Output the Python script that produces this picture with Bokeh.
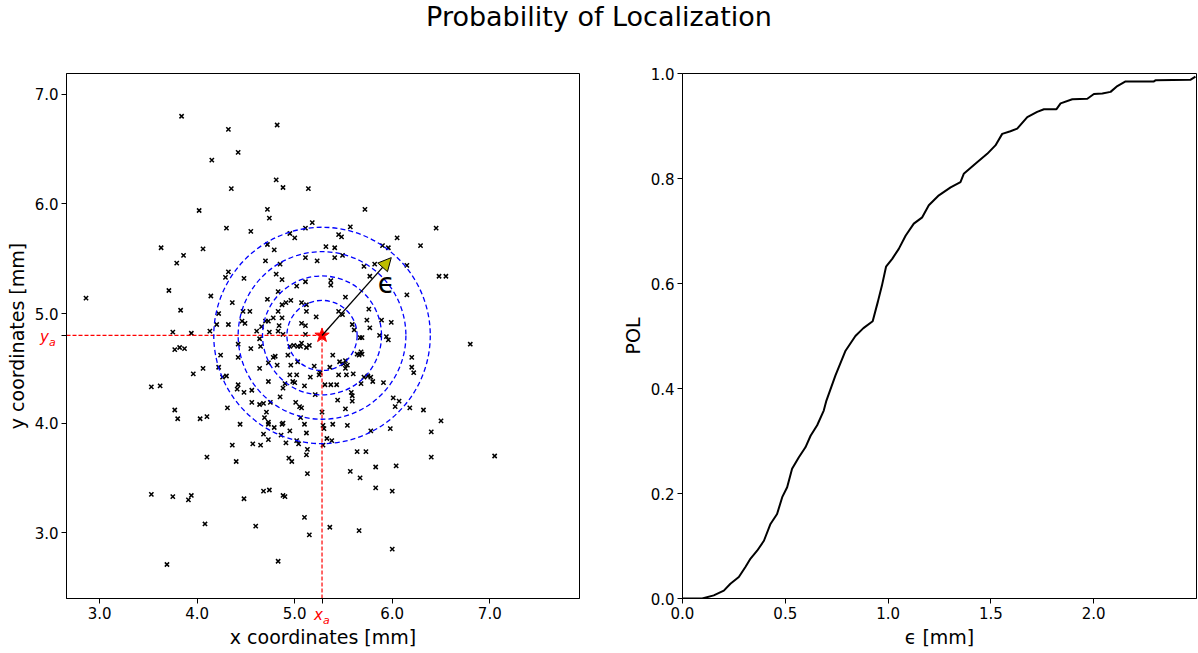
from bokeh.plotting import figure
from bokeh.models import (Range1d, FixedTicker, PrintfTickFormatter, Label, Arrow,
                          NormalHead, Div)
from bokeh.layouts import column, row
from bokeh.embed import file_html
from bokeh.resources import INLINE

# ---------------- data ----------------
x_pts = [
    3.84, 4.32, 4.42, 4.15, 4.35, 4.02, 4.30, 3.63, 4.06, 4.82,
    4.81, 4.88, 5.14, 4.72, 4.74, 5.72, 4.55, 5.18, 5.11, 5.57,
    4.95, 5.00, 5.45, 5.48, 6.05, 4.72, 4.79, 5.32, 5.41, 5.90,
    5.96, 6.45, 6.29, 3.86, 3.79, 4.32, 4.29, 3.71, 2.86, 4.14,
    4.36, 3.83, 4.22, 4.20, 4.32, 3.75, 3.94, 4.13, 4.42, 3.77,
    3.82, 3.87, 4.24, 4.42, 4.22, 4.06, 3.96, 4.26, 4.30, 4.42,
    3.53, 3.62, 4.41, 4.31, 3.77, 3.80, 4.03, 4.10, 4.36, 4.10,
    4.40, 3.53, 3.75, 3.91, 3.94, 4.08, 3.69, 4.44, 4.73, 4.79,
    4.87, 5.10, 5.29, 5.39, 5.54, 5.98, 5.78, 5.30, 4.95, 4.68,
    5.12, 4.86, 4.73, 5.02, 5.04, 4.91, 5.33, 5.38, 5.29, 4.57,
    4.65, 5.13, 5.12, 5.64, 5.73, 4.94, 4.97, 5.83, 6.04, 5.13,
    5.57, 5.67, 5.83, 4.68, 4.74, 6.00, 4.48, 4.88, 4.90, 5.10,
    4.60, 5.36, 5.15, 5.66, 6.00, 4.83, 6.40, 6.40, 7.05, 6.15,
    6.48, 6.55, 6.15, 6.80, 6.20, 6.20, 6.22, 6.18, 6.32, 6.50,
    4.70, 4.85, 5.11, 5.23, 5.41, 5.49, 5.71, 5.82, 4.48, 4.81,
    4.87, 5.11, 5.37, 5.37, 5.02, 5.77, 4.83, 4.72, 5.52, 4.96,
    4.91, 4.87, 5.07, 5.12, 4.47, 4.54, 4.83, 5.12, 5.45, 5.76,
    5.22, 5.49, 4.78, 4.87, 4.70, 4.73, 4.46, 4.49, 4.66, 4.84,
    5.07, 5.11, 5.59, 5.74, 5.89, 5.99, 4.61, 4.74, 4.83, 4.88,
    5.11, 5.61, 5.77, 4.64, 5.87, 5.67, 5.69, 5.94, 5.96, 4.65,
    4.95, 4.99, 5.03, 5.07, 5.06, 5.12, 5.15, 4.55, 4.93, 4.80,
    4.78, 5.39, 5.68, 5.64, 5.66, 5.69, 4.73, 5.52, 5.46, 5.50,
    5.54, 4.82, 5.03, 5.20, 4.96, 4.64, 5.36, 5.52, 5.60, 5.26,
    5.25, 4.95, 5.02, 5.45, 5.53, 5.75, 5.78, 5.80, 5.71, 5.16,
    4.98, 4.73, 4.90, 5.00, 5.10, 5.31, 5.37, 5.43, 5.68, 5.91,
    4.56, 4.48, 4.88, 5.21, 5.58, 5.59, 6.01, 4.85, 4.75, 4.56,
    4.64, 4.68, 5.01, 5.07, 5.44, 5.59, 6.07, 6.03, 5.05, 5.28,
    5.52, 4.71, 4.69, 4.73, 4.88, 5.06,
]
y_pts = [
    6.80, 6.68, 6.47, 6.40, 6.14, 5.94, 5.78, 5.60, 5.59, 6.72,
    6.22, 6.15, 6.14, 5.95, 5.87, 5.95, 5.75, 5.83, 5.78, 5.79,
    5.73, 5.69, 5.72, 5.70, 5.69, 5.63, 5.58, 5.61, 5.60, 5.62,
    5.60, 5.78, 5.62, 5.53, 5.46, 5.38, 5.33, 5.21, 5.14, 5.16,
    5.10, 5.03, 5.00, 4.90, 4.90, 4.83, 4.82, 4.84, 4.72, 4.67,
    4.69, 4.68, 4.62, 4.60, 4.51, 4.50, 4.45, 4.42, 4.43, 4.35,
    4.33, 4.34, 4.31, 4.14, 4.12, 4.04, 4.04, 4.06, 3.80, 3.69,
    3.65, 3.35, 3.33, 3.30, 3.34, 3.08, 2.71, 3.99, 3.99, 3.96,
    3.99, 3.99, 3.98, 3.99, 3.98, 3.95, 3.93, 3.95, 3.93, 3.90,
    3.91, 3.89, 3.85, 3.84, 3.81, 3.82, 3.86, 3.84, 3.80, 3.81,
    3.80, 3.76, 3.71, 3.74, 3.74, 3.68, 3.65, 3.60, 3.61, 3.54,
    3.56, 3.50, 3.41, 3.38, 3.39, 3.38, 3.31, 3.34, 3.33, 3.14,
    3.06, 3.05, 2.98, 3.02, 2.85, 2.74, 3.92, 3.69, 3.70, 5.44,
    5.34, 5.34, 5.17, 4.72, 4.60, 4.51, 4.46, 4.14, 4.12, 4.02,
    5.48, 5.45, 5.51, 5.48, 5.51, 5.53, 5.43, 5.45, 5.32, 5.36,
    5.31, 5.29, 5.30, 5.26, 5.25, 5.34, 5.20, 5.13, 5.15, 5.12,
    5.10, 5.08, 5.10, 5.08, 5.02, 5.02, 5.02, 5.02, 5.02, 5.04,
    4.97, 4.99, 4.96, 4.96, 4.93, 4.93, 4.93, 4.91, 4.88, 4.89,
    4.91, 4.89, 4.90, 4.94, 4.94, 4.92, 4.84, 4.83, 4.84, 4.81,
    4.81, 4.85, 4.87, 4.77, 4.80, 4.78, 4.78, 4.79, 4.76, 4.70,
    4.70, 4.71, 4.70, 4.73, 4.70, 4.69, 4.71, 4.68, 4.62, 4.61,
    4.60, 4.62, 4.65, 4.63, 4.62, 4.63, 4.55, 4.57, 4.56, 4.54,
    4.53, 4.53, 4.56, 4.52, 4.53, 4.50, 4.51, 4.50, 4.45, 4.46,
    4.44, 4.44, 4.44, 4.44, 4.44, 4.43, 4.42, 4.38, 4.42, 4.42,
    4.38, 4.38, 4.36, 4.37, 4.34, 4.35, 4.35, 4.35, 4.36, 4.37,
    4.30, 4.28, 4.32, 4.26, 4.28, 4.25, 4.23, 4.24, 4.19, 4.19,
    4.17, 4.18, 4.19, 4.14, 4.21, 4.20, 4.20, 4.15, 4.15, 4.10,
    4.13, 4.10, 4.05, 4.01, 4.00, 4.05,
]

center_x = 5.28          # x_a
center_y = 4.80          # y_a
ring_radii = [0.36, 0.61, 0.86, 1.11]
arrow_tip = [5.99, 5.51]
eps_label_pos = [5.94, 5.27]

left_xticks = [3.0, 4.0, 5.0, 6.0, 7.0]
left_yticks = [3.0, 4.0, 5.0, 6.0, 7.0]

eps_mm = [0.0, 0.096, 0.152, 0.201, 0.233, 0.274, 0.306, 0.331, 0.363, 0.396,
          0.428, 0.460, 0.485, 0.509, 0.533, 0.566, 0.598, 0.623, 0.655, 0.687,
          0.700, 0.744, 0.793, 0.841, 0.880, 0.925, 0.950, 0.970, 0.990, 1.020,
          1.052, 1.085, 1.125, 1.166, 1.198, 1.247, 1.304, 1.352, 1.368, 1.433,
          1.482, 1.522, 1.555, 1.595, 1.628, 1.677, 1.725, 1.758, 1.819, 1.839,
          1.896, 1.969, 2.001, 2.042, 2.082, 2.115, 2.155, 2.293, 2.300, 2.470,
          2.495]
pol = [0.0, 0.0, 0.006, 0.015, 0.028, 0.041, 0.060, 0.076, 0.091, 0.110,
       0.142, 0.161, 0.193, 0.212, 0.247, 0.269, 0.288, 0.310, 0.330, 0.358,
       0.377, 0.425, 0.472, 0.500, 0.515, 0.528, 0.565, 0.596, 0.632, 0.647,
       0.666, 0.691, 0.714, 0.726, 0.749, 0.768, 0.783, 0.793, 0.809, 0.831,
       0.847, 0.863, 0.885, 0.890, 0.895, 0.917, 0.927, 0.932, 0.932, 0.943,
       0.951, 0.952, 0.961, 0.962, 0.965, 0.976, 0.985, 0.985, 0.987, 0.988,
       0.994]
right_xticks = [0.0, 0.5, 1.0, 1.5, 2.0]
right_yticks = [0.0, 0.2, 0.4, 0.6, 0.8, 1.0]

FONT = "DejaVu Sans"
TICK_FS = "15px"
LABEL_FS = "19px"


def style_axis(ax):
    ax.axis_line_color = "black"
    ax.major_tick_line_color = "black"
    ax.minor_tick_line_color = None
    ax.major_tick_out = 5
    ax.major_tick_in = 0
    ax.major_label_text_font = FONT
    ax.major_label_text_font_size = TICK_FS
    ax.major_label_text_color = "black"
    ax.axis_label_text_font = FONT
    ax.axis_label_text_font_size = LABEL_FS
    ax.axis_label_text_font_style = "normal"
    ax.axis_label_text_color = "black"
    ax.major_label_standoff = 3
    ax.axis_label_standoff = 4


def style(p):
    p.xgrid.visible = False
    p.ygrid.visible = False
    p.outline_line_color = "black"
    p.outline_line_width = 1
    p.outline_line_alpha = 1
    p.background_fill_color = "white"
    p.border_fill_color = "white"
    p.border_fill_alpha = 0
    style_axis(p.xaxis[0])
    style_axis(p.yaxis[0])


# ---------------- left panel ----------------
p1 = figure(frame_width=513, frame_height=525,
            x_range=Range1d(2.66, 7.92), y_range=Range1d(2.40, 7.19),
            output_backend="svg", toolbar_location=None,
            min_border_left=66, min_border_right=33,
            min_border_top=23, min_border_bottom=50)
style(p1)
p1.xaxis.axis_label = "x coordinates [mm]"
p1.yaxis.axis_label = "y coordinates [mm]"
p1.xaxis.ticker = FixedTicker(ticks=left_xticks + [center_x])
p1.yaxis.ticker = FixedTicker(ticks=left_yticks + [center_y])
p1.xaxis.formatter = PrintfTickFormatter(format="%.1f")
p1.yaxis.formatter = PrintfTickFormatter(format="%.1f")
p1.xaxis.major_label_overrides = {center_x: ""}
p1.yaxis.major_label_overrides = {center_y: ""}

p1.scatter(x_pts, y_pts, marker="x", size=6, line_color="black", line_width=1.5)

p1.line([p1.x_range.start, center_x], [center_y, center_y],
        line_color="red", line_dash="4 2", line_width=1.2)
p1.line([center_x, center_x], [p1.y_range.start, center_y],
        line_color="red", line_dash="4 2", line_width=1.2)

p1.circle(x=[center_x] * len(ring_radii), y=[center_y] * len(ring_radii),
          radius=ring_radii, fill_color=None, line_color="blue",
          line_dash="5 3", line_width=1.3)

p1.add_layout(Arrow(end=NormalHead(size=13, fill_color="#bfbf00",
                                   line_color="black", line_width=1),
                    x_start=center_x, y_start=center_y,
                    x_end=arrow_tip[0], y_end=arrow_tip[1],
                    line_color="black", line_width=1.3))

p1.scatter([center_x], [center_y], marker="star", size=15,
           fill_color="red", line_color="red")

p1.add_layout(Label(x=eps_label_pos[0], y=eps_label_pos[1], text="ϵ",
                    text_font=FONT, text_font_size="28px", text_color="black",
                    text_align="center", text_baseline="middle"))

# ---------------- right panel ----------------
p2 = figure(frame_width=514, frame_height=525,
            x_range=Range1d(0, 2.5), y_range=Range1d(0, 1.0),
            output_backend="svg", toolbar_location=None,
            min_border_left=70, min_border_right=2,
            min_border_top=23, min_border_bottom=50)
style(p2)
p2.xaxis.axis_label = "ϵ [mm]"
p2.yaxis.axis_label = "POL"
p2.xaxis.ticker = FixedTicker(ticks=right_xticks)
p2.yaxis.ticker = FixedTicker(ticks=right_yticks)
p2.xaxis.formatter = PrintfTickFormatter(format="%.1f")
p2.yaxis.formatter = PrintfTickFormatter(format="%.1f")
p2.line(eps_mm, pol, line_color="black", line_width=2)

red_lbl = ("position:absolute;z-index:20;color:red;font-family:'DejaVu Sans';"
           "font-size:15px;font-style:italic;white-space:nowrap;line-height:18px;")
title = Div(text=(
    '<div style="position:relative;width:1198px;height:50px;overflow:visible;">'
    '<div style="width:1198px;text-align:center;font-family:\'DejaVu Sans\';'
    'font-size:27px;line-height:34px;color:black;">Probability of Localization</div>'
    f'<div style="{red_lbl}left:314px;top:606px;">x<sub style="font-size:11px;">a</sub></div>'
    f'<div style="{red_lbl}left:40px;top:328px;">y<sub style="font-size:11px;">a</sub></div>'
    '</div>'),
    width=1198, height=50, margin=(0, 0, 0, 0),
    styles={"overflow": "visible", "z-index": "20", "position": "relative"})

layout = column(title, row(p1, p2, spacing=0), spacing=0)

open("out.html", "w").write(file_html(layout, INLINE))
